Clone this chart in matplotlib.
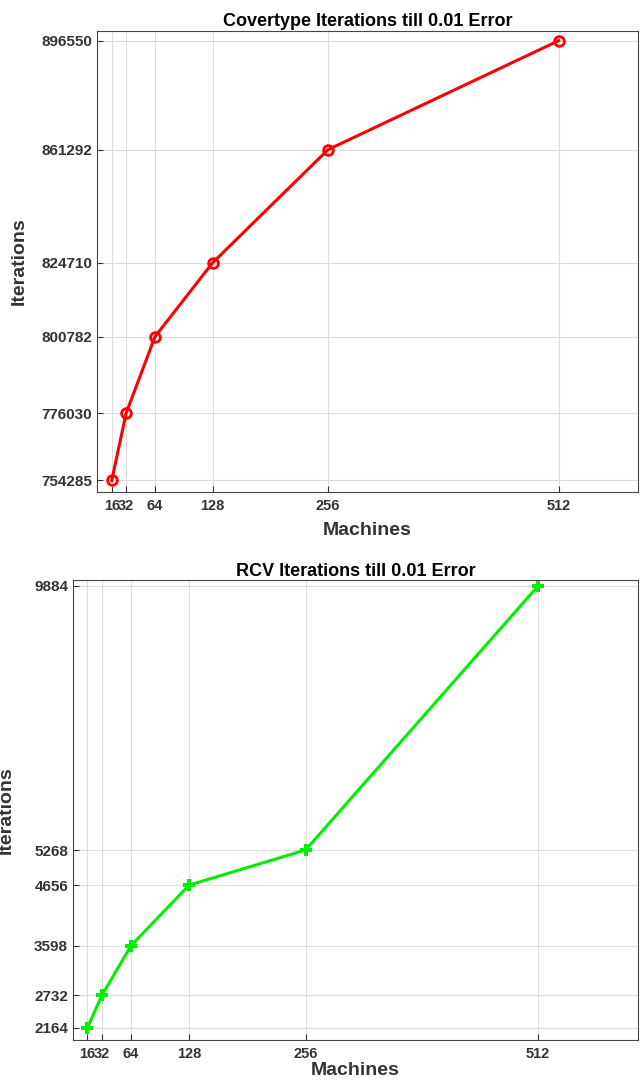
import matplotlib
matplotlib.use("Agg")
import matplotlib.pyplot as plt

machines = [16, 32, 64, 128, 256, 512]
cov_iters = [754285, 776030, 800782, 824710, 861292, 896550]
rcv_iters = [2164, 2732, 3598, 4656, 5268, 9884]

plt.rcParams['font.family'] = ['Liberation Sans', 'DejaVu Sans']
plt.rcParams['font.weight'] = 'bold'

fig = plt.figure(figsize=(6.4, 10.92), dpi=100)


def style(ax, title, ys, yl, xpad, ypad):
    ax.set_xticks(machines)
    ax.set_yticks(ys)
    ax.set_ylim(*yl)
    ax.grid(True, color='#dddddd', linewidth=0.8)
    ax.set_axisbelow(True)
    ax.set_title(title, fontsize=13, fontweight='bold', pad=3)
    ax.set_xlabel('Machines', fontsize=14, fontweight='bold', color='#333333', labelpad=xpad)
    ax.set_ylabel('Iterations', fontsize=14, fontweight='bold', color='#333333', labelpad=ypad)
    ax.tick_params(labelsize=11, colors='#333333', direction='in', length=4)
    ax.tick_params(axis='x', labelsize=10.5, pad=5)
    for lab in ax.get_xticklabels() + ax.get_yticklabels():
        lab.set_fontweight('bold')
    for s in ax.spines.values():
        s.set_color('#444444')


ax1 = fig.add_axes([0.152, 0.549, 0.845, 0.423])
ax1.plot(machines, cov_iters, color='red', linewidth=2.2, marker='o',
         markersize=7, markerfacecolor='none', markeredgewidth=2)
ax1.set_xlim(0, 600)
style(ax1, 'Covertype Iterations till 0.01 Error', cov_iters, (750400, 899800), 6, 10)

ax2 = fig.add_axes([0.114, 0.048, 0.883, 0.421])
ax2.plot(machines, rcv_iters, color='#00ee00', linewidth=2.2, marker='P',
         markersize=8, markeredgewidth=0)
ax2.set_xlim(0, 622)
style(ax2, 'RCV Iterations till 0.01 Error', rcv_iters, (1955, 9990), 1, 14)

fig.savefig('out.png', dpi=100)
